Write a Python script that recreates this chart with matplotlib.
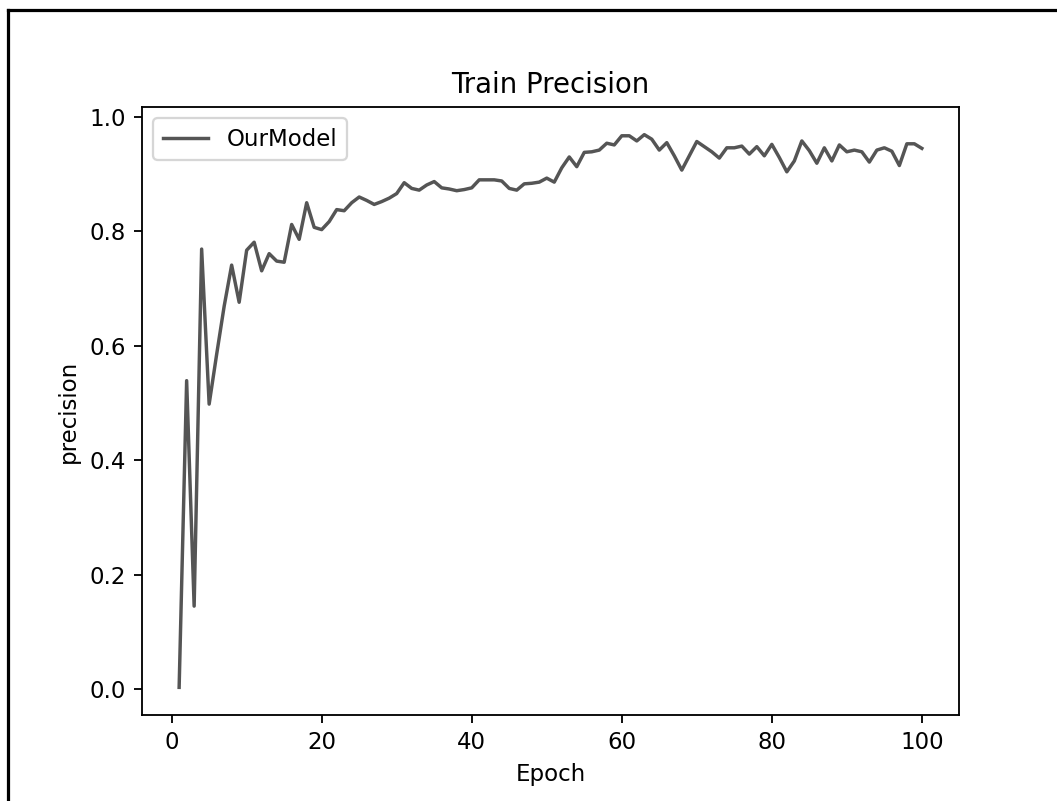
import numpy as np
import matplotlib
matplotlib.use('Agg')
import matplotlib.pyplot as plt
from matplotlib.lines import Line2D

# precision per epoch
epochs = list(range(1, 101))
precision = [
    0.003, 0.539, 0.145, 0.769, 0.498, 0.585, 0.669, 0.741, 0.676, 0.767,
    0.781, 0.731, 0.761, 0.748, 0.746, 0.812, 0.786, 0.850, 0.807, 0.803,
    0.817, 0.838, 0.836, 0.850, 0.860, 0.854, 0.847, 0.852, 0.858, 0.866,
    0.885, 0.875, 0.872, 0.881, 0.887, 0.876, 0.874, 0.871, 0.873, 0.876,
    0.890, 0.890, 0.890, 0.888, 0.875, 0.872, 0.883, 0.884, 0.886, 0.893,
    0.886, 0.911, 0.930, 0.913, 0.938, 0.939, 0.942, 0.954, 0.951, 0.967,
    0.967, 0.958, 0.969, 0.961, 0.942, 0.955, 0.932, 0.907, 0.932, 0.957,
    0.948, 0.939, 0.928, 0.946, 0.946, 0.949, 0.935, 0.948, 0.932, 0.952,
    0.929, 0.904, 0.923, 0.958, 0.941, 0.919, 0.946, 0.923, 0.951, 0.939,
    0.942, 0.939, 0.921, 0.942, 0.946, 0.940, 0.915, 0.953, 0.953, 0.945,
]

W, H = 1057, 801
DPI = 165
fig = plt.figure(figsize=(W / DPI, H / DPI), dpi=DPI)
ax = fig.add_axes([142 / W, (H - 715) / H, (959 - 142) / W, (715 - 107) / H])

ax.plot(epochs, precision, color='#555555', label='OurModel')
ax.set_title('Train Precision')
ax.set_xlabel('Epoch')
ax.set_ylabel('precision')
ax.legend(loc='upper left')

# black frame lines on top and left of the picture
fig.add_artist(Line2D([7.5 / W, 1], [1 - 9.5 / H, 1 - 9.5 / H],
                      transform=fig.transFigure, color='black', lw=1.4))
fig.add_artist(Line2D([7.5 / W, 7.5 / W], [0, 1 - 9.5 / H],
                      transform=fig.transFigure, color='black', lw=1.4))

fig.savefig('out.png', dpi=DPI)
